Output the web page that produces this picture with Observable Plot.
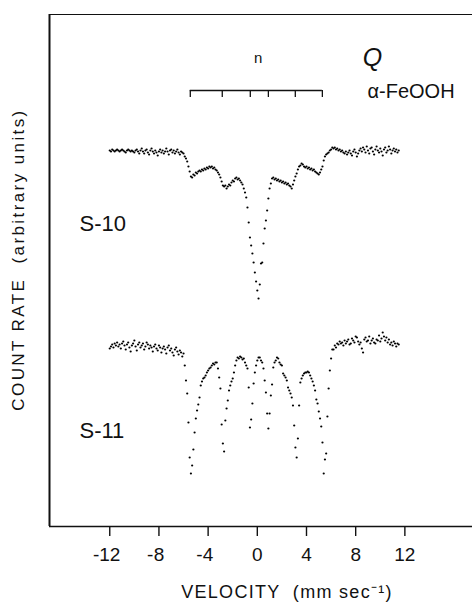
<!DOCTYPE html>
<html><head><meta charset="utf-8">
<script src="https://cdn.jsdelivr.net/npm/d3@7"></script>
<script src="https://cdn.jsdelivr.net/npm/@observablehq/plot@0.6"></script>
<style>
html,body{margin:0;padding:0;background:#fff;}
#chart svg{display:block;}
</style></head><body><div id="chart"></div>
<script>
// Velocity channel grid (mm/s)
const velocityStart = -12.0;
const velocityStep = 0.1;

// Vertical offsets of the stacked spectra (arbitrary units)
const s10Offset = 376;
const s11Offset = 180;

// Count rate relative to each spectrum's baseline (arbitrary units), one value per channel
const s10Counts = [
  0, -1, 1, 0, -1, 0, 1, 0, -1, 0,
  1, 0, -1, -2, 0, 1, 0, -1, 0, -1,
  -2, 0, 1, -1, -3, 0, 2, -1, -3, 0,
  1, -2, -4, 0, 2, -1, -3, 0, -2, -5,
  -1, 1, -2, 0, -3, -1, 2, -1, -4, 0,
  1, -2, 0, -3, -1, 1, -2, -4, -1, -2,
  -3, -6, -8, -11, -16, -21, -26, -27, -24, -25,
  -22, -23, -21, -20, -21, -19, -20, -18, -19, -17,
  -18, -16, -17, -16, -18, -17, -19, -20, -22, -24,
  -27, -31, -35, -36, -35, -38, -36, -34, -35, -32,
  -30, -31, -28, -27, -29, -28, -30, -32, -34, -38,
  -42, -47, -57, -72, -87, -95, -103, -112, -122, -131,
  -140, -148, -134, -113, -112, -93, -78, -70, -60, -48,
  -38, -33, -28, -27, -29, -28, -30, -29, -31, -30,
  -32, -31, -33, -32, -34, -33, -35, -36, -38, -34,
  -30, -26, -23, -19, -16, -15, -13, -14, -16, -17,
  -16, -18, -17, -19, -18, -20, -19, -21, -22, -23,
  -24, -22, -19, -16, -10, -6, -4, -3, -2, 0,
  1, 3, 2, 3, 1, 2, 0, 1, -1, 0,
  -2, -3, -1, -4, -2, 0, -3, -5, -1, 1,
  -2, -6, -3, 0, 2, -1, 3, 1, -2, 4,
  0, -3, 2, 3, -1, -4, 1, 4, 0, -2,
  2, -1, -5, 1, 3, -2, 0, 4, 1, -3,
  0, 2, -1, 1, -2, 0
];

const s11Counts = [
  -2, 0, 2, -1, 3, 1, 4, 0, 2, -2,
  3, 5, 1, -3, 2, 4, -1, -5, 1, 3,
  6, 0, -4, 2, 4, -1, 1, 3, -3, 0,
  4, 2, -2, 1, -1, -5, 0, 2, -2, -4,
  1, -1, -6, -2, 0, -3, -7, -1, 1, -4,
  -2, -6, -9, -3, -1, -5, -8, -4, -6, -10,
  -7, -19, -34, -47, -76, -111, -127, -119, -103, -86,
  -72, -64, -58, -51, -39, -35, -32, -31, -29, -26,
  -24, -22, -21, -19, -17, -18, -16, -16, -22, -31,
  -42, -78, -97, -105, -74, -62, -54, -44, -39, -35,
  -32, -26, -19, -14, -11, -12, -10, -11, -13, -12,
  -16, -19, -22, -41, -81, -73, -57, -37, -26, -19,
  -14, -11, -11, -14, -16, -22, -34, -46, -67, -82,
  -67, -49, -38, -21, -16, -14, -11, -12, -16, -18,
  -19, -27, -29, -31, -34, -41, -44, -47, -51, -59,
  -79, -101, -111, -92, -59, -36, -32, -29, -27, -26,
  -26, -25, -26, -29, -32, -35, -39, -44, -53, -57,
  -65, -72, -80, -96, -127, -113, -107, -70, -42, -24,
  -12, -3, -3, 1, -1, 3, 2, 5, 3, 4,
  1, 6, 3, 5, 7, 2, 3, 8, 6, 4,
  10, 9, 5, 2, 4, -2, -6, 7, 9, 5,
  6, 10, 3, 6, 8, 4, 3, 7, 6, 11,
  5, 8, 14, 10, 6, 9, 4, 7, 2, 4,
  1, 5, 3, 0, 3, 2
];

// Stick diagram: alpha-FeOOH sextet line positions (mm/s)
const sextetLines = [-5.45, -2.85, -0.57, 0.9, 3.09, 5.29];
const stickLevel = 436;
const stickTickLength = 7;

// Axis
const xDomain = [-16.9, 17.5];
const yDomain = [0, 512];
const xTicks = [-12, -8, -4, 0, 4, 8, 12];

const spectrumNames = ["S-10", "S-11"];
const xTitle = "VELOCITY  (mm sec\u207B\u00B9)";
const yTitle = "COUNT RATE  (arbitrary units)";
const panelLetter = "Q";
const mineral = "\u03B1-FeOOH";
const stickLabel = "n";

const rows = [];
s10Counts.forEach((c, i) => rows.push({v: velocityStart + i * velocityStep, y: s10Offset + c, s: "S-10"}));
s11Counts.forEach((c, i) => rows.push({v: velocityStart + i * velocityStep, y: s11Offset + c, s: "S-11"}));

const FONT = '"Liberation Sans", Arial, sans-serif';
const INK = "#111";

const chart = Plot.plot({
  width: 472,
  height: 603,
  marginLeft: 49,
  marginRight: 0,
  marginTop: 14,
  marginBottom: 77,
  style: {fontFamily: FONT, color: INK, background: "#fff"},
  x: {domain: xDomain, label: null},
  y: {domain: yDomain, axis: null},
  marks: [
    // frame (left, top, bottom)
    Plot.ruleX([xDomain[0]], {stroke: INK, strokeWidth: 2}),
    Plot.ruleY([yDomain[1]], {stroke: INK, strokeWidth: 1.2}),
    Plot.ruleY([yDomain[0]], {stroke: INK, strokeWidth: 1.6}),
    // ticks
    Plot.axisX(xTicks, {tickSize: 10, tickFormat: () => "", stroke: INK, strokeWidth: 1.4}),
    Plot.text(xTicks, {x: d => d, text: d => String(Math.abs(d)), frameAnchor: "bottom", dy: 28, textAnchor: "middle", lineAnchor: "middle", fontSize: 19, fill: INK}),
    Plot.text(xTicks.filter(d => d < 0 && Math.abs(d) >= 10), {x: d => d, text: () => "-", frameAnchor: "bottom", dy: 28, dx: -10.5, textAnchor: "end", lineAnchor: "middle", fontSize: 19, fill: INK}),
    Plot.text(xTicks.filter(d => d < 0 && Math.abs(d) < 10), {x: d => d, text: () => "-", frameAnchor: "bottom", dy: 28, dx: -5.5, textAnchor: "end", lineAnchor: "middle", fontSize: 19, fill: INK}),
    // axis titles
    Plot.text([xTitle], {frameAnchor: "bottom", dx: 26, dy: 66, textAnchor: "middle", lineAnchor: "middle", fontSize: 18, fill: INK}),
    Plot.text([yTitle], {frameAnchor: "left", dx: -31, dy: -11, rotate: -90, textAnchor: "middle", lineAnchor: "middle", fontSize: 17, fill: INK}),
    // spectra
    Plot.dot(rows, {x: "v", y: "y", r: 1.1, fill: "#000", stroke: null}),
    // stick diagram
    Plot.ruleY([stickLevel], {x1: sextetLines[0], x2: sextetLines[sextetLines.length - 1], stroke: INK, strokeWidth: 1.3}),
    Plot.ruleX(sextetLines, {x: d => d, y1: stickLevel, y2: stickLevel - stickTickLength, stroke: INK, strokeWidth: 1.3}),
    Plot.text([stickLabel], {x: () => d3.mean(sextetLines), y: () => stickLevel, dy: -32, lineAnchor: "middle", fontSize: 15, fill: INK}),
    // annotations
    Plot.text([panelLetter], {frameAnchor: "top-left", dx: 323, dy: 43, textAnchor: "middle", lineAnchor: "middle", fontSize: 25, fontStyle: "italic", fill: INK}),
    Plot.text([mineral], {frameAnchor: "top-left", dx: 318, dy: 77, textAnchor: "start", lineAnchor: "middle", fontSize: 20, fill: INK}),
    Plot.text([spectrumNames[0]], {frameAnchor: "top-left", dx: 30, dy: 209, textAnchor: "start", lineAnchor: "middle", fontSize: 22, fill: INK}),
    Plot.text([spectrumNames[1]], {frameAnchor: "top-left", dx: 30, dy: 416, textAnchor: "start", lineAnchor: "middle", fontSize: 22, fill: INK})
  ]
});
chart.querySelectorAll("text").forEach(t => {
  if (t.textContent === yTitle) t.setAttribute("letter-spacing", "2.4");
  if (t.textContent === xTitle) t.setAttribute("letter-spacing", "1.3");
});
document.getElementById("chart").appendChild(chart);
</script>
</body></html>
